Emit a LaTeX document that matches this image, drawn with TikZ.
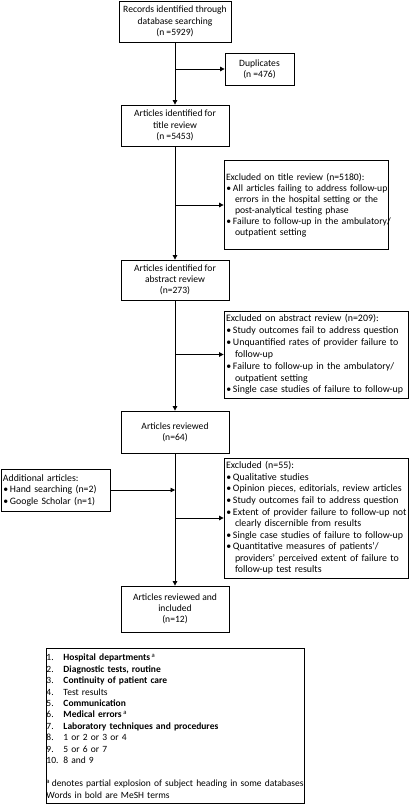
\documentclass[tikz,border=0pt]{standalone}
\usepackage{fontspec}
\setmainfont{Carlito}
\usetikzlibrary{arrows.meta}
\newcommand\bl[1]{\mbox{\makebox[7bp][l]{\hspace{0.3bp}•}#1}}
\newcommand\cl[1]{\mbox{\hspace{9bp}#1}}
\newcommand\numit[1]{\makebox[17bp][l]{#1}}
\begin{document}
\begin{tikzpicture}[x=1bp,y=-1bp,
  box/.style={draw, line width=0.8bp, inner xsep=2bp, inner ysep=1bp,
    font=\fontsize{9.6bp}{11.3bp}\selectfont},
  mainbox/.style={box, align=center, minimum width=108bp},
  exbox/.style={box, align=left},
  arr/.style={line width=0.8bp, -{Triangle[length=4.5bp,width=4.5bp]}}]
\useasboundingbox (0,0) rectangle (410,805);

\node[mainbox, minimum width=112bp, minimum height=41bp] (b1) at (175,21.5)
  {Records identified through\\database searching\\(n =5929)};
\node[box, align=center, minimum width=69bp, minimum height=32bp] (dup) at (259.5,69)
  {Duplicates\\(n =476)};
\node[mainbox, minimum height=41bp] (b2) at (175,125.5)
  {Articles identified for\\title review\\(n =5453)};
\node[exbox, text width=160bp, minimum height=89bp,
  font=\fontsize{9.7bp}{11bp}\selectfont] (ex1) at (306,205)
  {\mbox{Excluded on title review (n=5180):}\\
   \bl{All articles failing to address follow-up}\\
   \cl{errors in the hospital setting or the}\\
   \cl{post-analytical testing phase}\\
   \bl{Failure to follow-up in the ambulatory/}\\
   \cl{outpatient setting}};
\node[mainbox, minimum height=40bp] (b3) at (175,280)
  {Articles identified for\\abstract review\\(n=273)};
\node[exbox, text width=180bp, minimum height=87bp,
  font=\fontsize{9.9bp}{11.9bp}\selectfont] (ex2) at (316,354.5)
  {\mbox{Excluded on abstract review (n=209):}\\
   \bl{Study outcomes fail to address question}\\
   \bl{Unquantified rates of provider failure to}\\
   \cl{follow-up}\\
   \bl{Failure to follow-up in the ambulatory/}\\
   \cl{outpatient setting}\\
   \bl{Single case studies of failure to follow-up}};
\node[mainbox, minimum height=42bp] (b4) at (175,432)
  {Articles reviewed\\(n=64)};
\node[exbox, text width=105bp, minimum height=42bp,
  font=\fontsize{9.8bp}{11.5bp}\selectfont] (add) at (55.5,490)
  {\mbox{Additional articles:}\\
   \bl{Hand searching (n=2)}\\
   \bl{Google Scholar (n=1)}};
\node[exbox, text width=180bp, minimum height=120bp,
  font=\fontsize{9.9bp}{11.55bp}\selectfont] (ex3) at (316,518)
  {\mbox{Excluded (n=55):}\\
   \bl{Qualitative studies}\\
   \bl{Opinion pieces, editorials, review articles}\\
   \bl{Study outcomes fail to address question}\\
   \bl{Extent of provider failure to follow-up not}\\
   \cl{clearly discernible from results}\\
   \bl{Single case studies of failure to follow-up}\\
   \bl{Quantitative measures of patients’/}\\
   \cl{providers’ perceived extent of failure to}\\
   \cl{follow-up test results}};
\node[mainbox, minimum height=46bp] (b5) at (175,609)
  {Articles reviewed and\\included\\(n=12)};
\node[exbox, inner xsep=0.5bp, text width=257bp, minimum height=155bp,
  font=\fontsize{9.5bp}{11.45bp}\selectfont] (lst) at (175,726)
  {\numit{1.}\textbf{Hospital departments}\,\textsuperscript{a}\\
   \numit{2.}\textbf{Diagnostic tests, routine}\\
   \numit{3.}\textbf{Continuity of patient care}\\
   \numit{4.}Test results\\
   \numit{5.}\textbf{Communication}\\
   \numit{6.}\textbf{Medical errors}\,\textsuperscript{a}\\
   \numit{7.}\textbf{Laboratory techniques and procedures}\\
   \numit{8.}1 or 2 or 3 or 4\\
   \numit{9.}5 or 6 or 7\\
   10. 8 and 9\\[11.45bp]
   \mbox{\textsuperscript{a}\,denotes partial explosion of subject heading in some databases}\\
   Words in bold are MeSH terms};

\draw[arr] (b1) -- (b2);
\draw[arr] (b1.south |- dup.west) -- (dup.west);
\draw[arr] (b2) -- (b3);
\draw[arr] (b2.south |- ex1.west) -- (ex1.west);
\draw[arr] (b3) -- (b4);
\draw[arr] (b3.south |- ex2.west) -- (ex2.west);
\draw[arr] (b4) -- (b5);
\draw[arr] (add.east) -- (b4.south |- add.east);
\draw[arr] (b4.south |- ex3.west) -- (ex3.west);
\end{tikzpicture}
\end{document}
